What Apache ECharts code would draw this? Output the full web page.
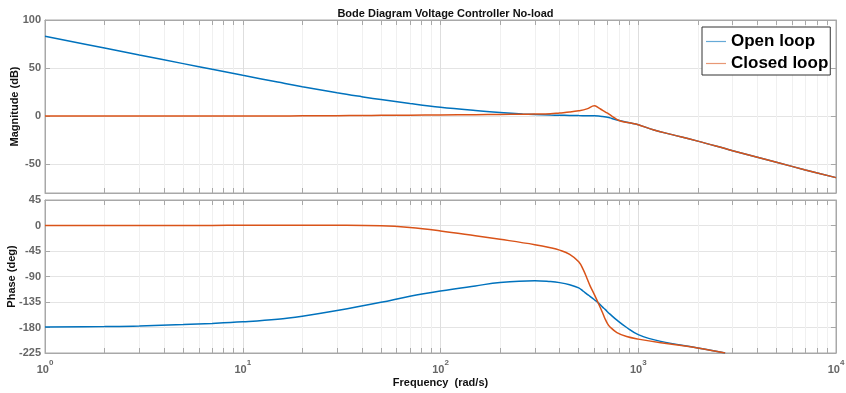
<!DOCTYPE html>
<html>
<head>
<meta charset="utf-8">
<script src="https://cdn.jsdelivr.net/npm/echarts@6/dist/echarts.min.js"></script>
<style>html,body{margin:0;padding:0;background:#fff;}#c{width:846px;height:393px;}</style>
</head>
<body>
<div id="c"></div>
<script>
// ---- data ----
const magFreq = [1, 2, 3, 5, 7, 10, 15, 20, 30, 40, 50, 70, 100, 150, 200, 260, 300, 360, 400, 450, 500, 550, 600, 630, 660, 700, 735, 800, 900, 1000, 1200, 1500, 2000, 3000, 5000, 7000, 10000];
const magOpen = [83, 70.8, 63.6, 54.6, 48.7, 42.4, 35.45, 30.6, 24.3, 20.2, 17.2, 13.1, 9.2, 5.8, 3.8, 2.3, 1.7, 1.15, 0.9, 0.7, 0.55, 0.45, 0.3, 0.05, -0.4, -1.1, -2.5, -4.6, -7, -9, -14.5, -19.5, -26, -36, -48, -56, -64];
const magClosed = [0, 0, 0, 0, 0.1, 0.1, 0.2, 0.3, 0.5, 0.7, 0.8, 1.0, 1.2, 1.45, 1.7, 2.0, 2.1, 2.5, 3.3, 4.2, 5.5, 7.5, 10.8, 8.5, 6, 3, 0, -4.6, -7, -8.9, -14.5, -19.5, -26, -36, -48, -56, -64];

const phaseFreq = [1, 2, 3, 5, 7, 10, 15, 20, 30, 50, 70, 100, 150, 200, 300, 360, 400, 450, 500, 527, 550, 570, 600, 630, 660, 680, 700, 720, 780, 874, 1000, 1300, 2000, 2750];
const phaseOpen = [-179.3, -178.2, -177.2, -174.8, -172.8, -170, -165.5, -160, -150, -135.5, -124.8, -115.6, -106.6, -100.6, -97.4, -99, -100.8, -104.5, -110, -116, -121, -125, -131, -137, -144, -148, -152.5, -156.5, -167, -180, -192.5, -204.5, -216, -225];
const phaseClosed = [0, 0, 0, 0.1, 0.2, 0.3, 0.4, 0.4, 0.3, -0.5, -3.5, -9.5, -18, -24.3, -33.8, -39.3, -43.5, -51, -64, -78, -93, -106, -122, -138, -154, -165, -173.5, -179, -189, -196, -200.5, -207, -216, -225];

const xTickValues = [1,2,3,4,5,6,7,8,9,10,20,30,40,50,60,70,80,90,100,200,300,400,500,600,700,800,900,1000,2000,3000,4000,5000,6000,7000,8000,9000,10000];
const xLabelValues = [1, 10, 100, 1000, 10000];
const magTicks = [-50, 0, 50, 100];

const titleText = 'Bode Diagram Voltage Controller No-load';
const seriesNames = ['Open loop', 'Closed loop'];

// ---- chart ----
const BLUE = '#0072BD', ORANGE = '#D95319';
const AX = '#a8a8a8';
const FONT = 'Liberation Sans, Arial, sans-serif';
const gridColors = ['#dedede','#f0f0f0','#f0f0f0','#f0f0f0','#f0f0f0','#f0f0f0','#f0f0f0','#f0f0f0','#f0f0f0'];

function pairs(f, v) { return f.map((x, i) => [x, v[i]]); }

function xAxisDef(grid, pos, labels) {
  return {
    type: 'log', logBase: 10, min: 1, max: 10000, gridIndex: grid, position: pos,
    axisLine: { show: true, onZero: false, lineStyle: { color: AX, width: 1 } },
    axisTick: { show: true, inside: true, length: 5, customValues: xTickValues, lineStyle: { color: AX } },
    axisLabel: labels ? {
      show: true, customValues: xLabelValues, margin: 6,
      formatter: function (v) { return '{b|10}{s|' + Math.round(Math.log10(v)) + '}'; },
      rich: {
        b: { fontSize: 11, fontWeight: 'bold', color: '#666', fontFamily: FONT, lineHeight: 16, verticalAlign: 'bottom' },
        s: { fontSize: 8, fontWeight: 'bold', color: '#666', fontFamily: FONT, lineHeight: 16, verticalAlign: 'top' }
      }
    } : { show: false },
    splitLine: pos === 'bottom' ? { show: true, lineStyle: { color: gridColors, width: 1 } } : { show: false },
    minorTick: { show: false }
  };
}

function lineSeries(name, xi, yi, f, v, color, z) {
  return { name: name, type: 'line', xAxisIndex: xi, yAxisIndex: yi, data: pairs(f, v), symbol: 'none', showSymbol: false,
    smooth: 0.4, lineStyle: { color: color, width: 1.5 }, itemStyle: { color: color }, clip: true, z: z };
}

const yNameStyle = { fontSize: 11, fontWeight: 'bold', color: '#111', fontFamily: FONT };

const option = {
  animation: false,
  backgroundColor: '#fff',
  title: {
    text: titleText, left: 440.5, top: 3, textAlign: 'center',
    textStyle: { fontSize: 11, fontWeight: 'bold', color: '#111', fontFamily: FONT }
  },
  legend: {
    data: seriesNames, orient: 'vertical', left: 702, top: 27,
    icon: 'rect', itemWidth: 20, itemHeight: 1.2, itemGap: 5, padding: [6, 2, 3, 4],
    borderColor: '#333', borderWidth: 1, backgroundColor: '#fff',
    itemStyle: { opacity: 0.6 },
    textStyle: { fontSize: 17, fontWeight: 'bold', color: '#000', fontFamily: FONT }
  },
  grid: [
    { left: 45, top: 20, width: 791, height: 173, show: true, borderColor: AX, borderWidth: 1, backgroundColor: 'transparent', containLabel: false, outerBoundsMode: 'none' },
    { left: 45, top: 200, width: 791, height: 153, show: true, borderColor: AX, borderWidth: 1, backgroundColor: 'transparent', containLabel: false, outerBoundsMode: 'none' }
  ],
  xAxis: [
    xAxisDef(0, 'bottom', false),
    xAxisDef(0, 'top', false),
    Object.assign(xAxisDef(1, 'bottom', true), {
      name: 'Frequency  (rad/s)', nameLocation: 'middle', nameGap: 24, nameMoveOverlap: false,
      nameTextStyle: { fontSize: 11, fontWeight: 'bold', color: '#111', fontFamily: FONT }
    }),
    xAxisDef(1, 'top', false)
  ],
  yAxis: [
    {
      type: 'value', gridIndex: 0, min: -80, max: 100, position: 'left',
      name: 'Magnitude (dB)', nameLocation: 'middle', nameGap: 25, nameMoveOverlap: false,
      nameTextStyle: yNameStyle,
      axisLine: { show: true, onZero: false, lineStyle: { color: AX } },
      axisTick: { show: true, inside: true, length: 5, customValues: magTicks, lineStyle: { color: AX } },
      axisLabel: { customValues: magTicks, margin: 4, fontSize: 11, fontWeight: 'bold', color: '#666', fontFamily: FONT },
      splitLine: { show: true, lineStyle: { color: '#e4e4e4' } }
    },
    {
      type: 'value', gridIndex: 0, min: -80, max: 100, position: 'right',
      axisLine: { show: true, onZero: false, lineStyle: { color: AX } },
      axisTick: { show: true, inside: true, length: 5, customValues: magTicks, lineStyle: { color: AX } },
      axisLabel: { show: false }, splitLine: { show: false }
    },
    {
      type: 'value', gridIndex: 1, min: -225, max: 45, interval: 45, position: 'left',
      name: 'Phase (deg)', nameLocation: 'middle', nameGap: 28, nameMoveOverlap: false,
      nameTextStyle: yNameStyle,
      axisLine: { show: true, onZero: false, lineStyle: { color: AX } },
      axisTick: { show: true, inside: true, length: 5, lineStyle: { color: AX } },
      axisLabel: { margin: 4, fontSize: 11, fontWeight: 'bold', color: '#666', fontFamily: FONT },
      splitLine: { show: true, lineStyle: { color: '#e4e4e4' } }
    },
    {
      type: 'value', gridIndex: 1, min: -225, max: 45, interval: 45, position: 'right',
      axisLine: { show: true, onZero: false, lineStyle: { color: AX } },
      axisTick: { show: true, inside: true, length: 5, lineStyle: { color: AX } },
      axisLabel: { show: false }, splitLine: { show: false }
    }
  ],
  series: [
    lineSeries(seriesNames[0], 0, 0, magFreq, magOpen, BLUE, 3),
    lineSeries(seriesNames[1], 0, 0, magFreq, magClosed, ORANGE, 4),
    lineSeries(seriesNames[0], 2, 2, phaseFreq, phaseOpen, BLUE, 3),
    lineSeries(seriesNames[1], 2, 2, phaseFreq, phaseClosed, ORANGE, 4)
  ]
};

const chart = echarts.init(document.getElementById('c'), null, { renderer: 'canvas' });
chart.setOption(option);
</script>
</body>
</html>
